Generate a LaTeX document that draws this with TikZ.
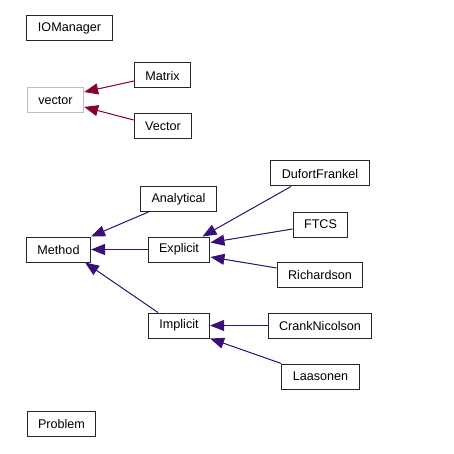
\documentclass[tikz,border=0pt]{standalone}
\usepackage{fontspec}
\setmainfont{Liberation Sans}
\usetikzlibrary{arrows.meta}

\definecolor{inhblue}{RGB}{56,16,120}
\definecolor{tmplred}{RGB}{135,5,40}

\tikzset{
    cls/.style={draw=black!85, line width=1pt, fill=white, inner xsep=11pt,
        minimum height=25pt, font=\fontsize{12.6}{15}\selectfont},
    ext/.style={cls, draw=black!25},
    inh/.style={draw=inhblue, line width=1pt, -{Triangle[length=14pt,width=11pt]}},
    tmpl/.style={inh, draw=tmplred, fill=tmplred}
}

\begin{document}
\begin{tikzpicture}[x=1pt, y=-1pt]
    \useasboundingbox (0,0) rectangle (454,454);

    % Stand-alone classes.
    \node[cls] (iomanager) at (69.5, 28)    {IOManager};
    \node[cls] (problem)   at (61.5, 423.5) {Problem};

    % Vector types.
    \node[ext] (stdvector) at (55.5, 100)  {vector};
    \node[cls] (matrix)    at (162.5, 75.5) {Matrix};
    \node[cls] (vectorcls) at (163, 126)   {Vector};

    % Methods.
    \node[cls] (method)     at (58.5, 249.5) {Method};
    \node[cls] (analytical) at (178.5, 199)  {Analytical};
    \node[cls] (explicit)   at (179, 249.5)  {Explicit};
    \node[cls] (implicit)   at (179, 325.5)  {Implicit};

    % Schemes.
    \node[cls] (dufort)     at (320, 173.5)   {DufortFrankel};
    \node[cls] (ftcs)       at (320.5, 224.5) {FTCS};
    \node[cls] (richardson) at (320, 274.5)   {Richardson};
    \node[cls] (crank)      at (320, 325.5)   {CrankNicolson};
    \node[cls] (laasonen)   at (320.5, 376.5) {Laasonen};

    % Template arrows.
    \draw[tmpl] ([yshift=-5.5pt]matrix.west)   -- ([yshift=8pt]stdvector.east);
    \draw[tmpl] ([yshift=6pt]vectorcls.west)   -- ([yshift=-7pt]stdvector.east);

    % Inheritance arrows.
    \draw[inh, fill=inhblue] ([xshift=-30pt]analytical.south) -- (method.north east);
    \draw[inh, fill=inhblue] (explicit.west) -- (method.east);
    \draw[inh, fill=inhblue] ([xshift=-21pt]implicit.north) -- ([xshift=-6pt]method.south east);
    \draw[inh, fill=inhblue] ([xshift=-29pt]dufort.south) -- ([xshift=-8pt]explicit.north east);
    \draw[inh, fill=inhblue] ([yshift=-4.5pt]ftcs.west) -- ([yshift=7pt]explicit.east);
    \draw[inh, fill=inhblue] ([yshift=6.5pt]richardson.west) -- ([yshift=-7.5pt]explicit.east);
    \draw[inh, fill=inhblue] (crank.west) -- (implicit.east);
    \draw[inh, fill=inhblue] (laasonen.north west) -- (implicit.south east);

\end{tikzpicture}
\end{document}
